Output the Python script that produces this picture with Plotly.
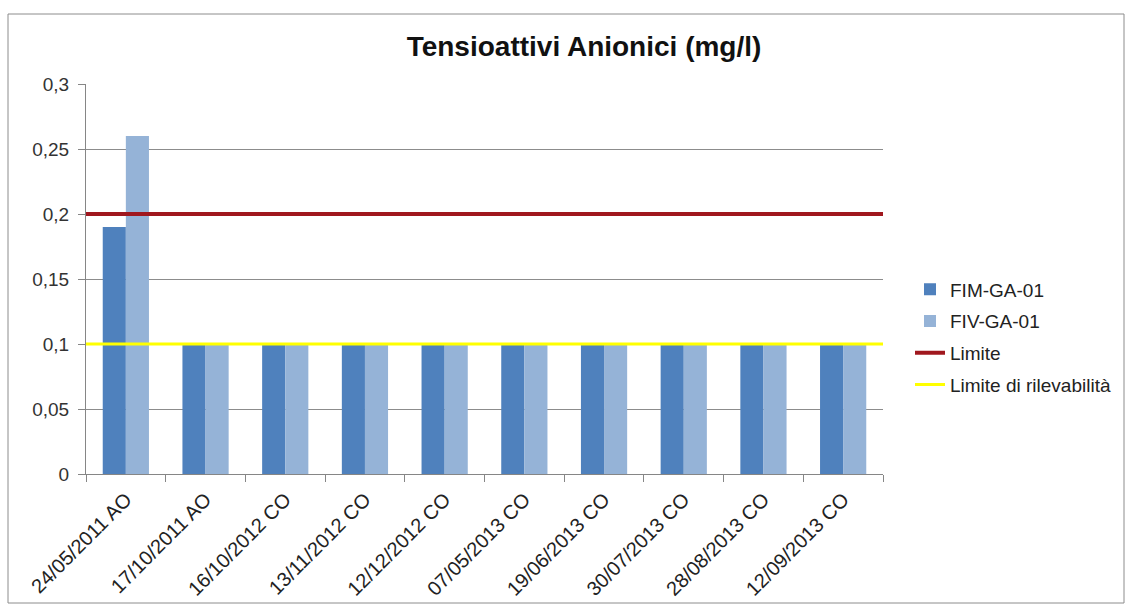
import plotly.graph_objects as go

categories = ["24/05/2011 AO", "17/10/2011 AO", "16/10/2012 CO", "13/11/2012 CO",
              "12/12/2012 CO", "07/05/2013 CO", "19/06/2013 CO", "30/07/2013 CO",
              "28/08/2013 CO", "12/09/2013 CO"]
fim_ga_01 = [0.19, 0.1, 0.1, 0.1, 0.1, 0.1, 0.1, 0.1, 0.1, 0.1]
fiv_ga_01 = [0.26, 0.1, 0.1, 0.1, 0.1, 0.1, 0.1, 0.1, 0.1, 0.1]
limite = 0.2
limite_rilevabilita = 0.1
y_ticks = [0, 0.05, 0.1, 0.15, 0.2, 0.25, 0.3]

W, H = 1126, 605
L, R, T, B = 86, 243, 84, 131
pw, ph = W - L - R, H - T - B

fig = go.Figure()
fig.add_trace(go.Bar(x=categories, y=fim_ga_01, name="FIM-GA-01",
                     marker=dict(color="#4F81BD", line=dict(width=0)),
                     legendgroup="a"))
fig.add_trace(go.Bar(x=categories, y=fiv_ga_01, name="FIV-GA-01",
                     marker=dict(color="#95B3D7", line=dict(width=0)),
                     legendgroup="b"))
fig.add_trace(go.Scatter(x=[0, 1], y=[limite, limite], name="Limite", mode="lines",
                         line=dict(color="#A0171E", width=4), xaxis="x2",
                         legendgroup="c"))
fig.add_trace(go.Scatter(x=[0, 1], y=[limite_rilevabilita, limite_rilevabilita],
                         name="Limite di rilevabilità", mode="lines",
                         line=dict(color="#FFFF00", width=3), xaxis="x2",
                         legendgroup="d"))

def px_x(p):
    return (p - L) / pw

def px_y(p):
    return (H - B - p) / ph

fig.update_layout(
    width=W, height=H,
    margin=dict(l=L, r=R, t=T, b=B, autoexpand=False),
    paper_bgcolor="white", plot_bgcolor="white",
    separators=",.",
    font=dict(family="Liberation Sans, Arial, sans-serif", size=19, color="#333333"),
    title=dict(text="<b>Tensioattivi Anionici (mg/l)</b>", x=px_x(584), xref="paper",
               y=1 - 46 / H, yanchor="middle", xanchor="center",
               font=dict(size=28, color="#111111")),
    barmode="group", bargap=0.42, bargroupgap=0,
    xaxis=dict(type="category", tickson="boundaries", ticks="outside", ticklen=7,
               tickcolor="#868686", showline=True, linecolor="#868686", linewidth=1,
               tickangle=-45, showgrid=False, ticklabelstandoff=5,
               tickfont=dict(size=20, color="#222222")),
    xaxis2=dict(overlaying="x", range=[0, 1], visible=False),
    yaxis=dict(range=[0, 0.3], tickvals=y_ticks, ticks="outside", ticklen=7,
               tickcolor="#868686", showline=True, linecolor="#868686", linewidth=1,
               showgrid=True, gridcolor="#8C8C8C", gridwidth=1, zeroline=False,
               ticklabelstandoff=5,
               tickfont=dict(size=19, color="#333333")),
    legend=dict(x=px_x(910), y=px_y(337), xanchor="left", yanchor="middle",
                traceorder="grouped", tracegroupgap=4,
                font=dict(size=19, color="#222222"), bgcolor="rgba(0,0,0,0)"),
    shapes=[dict(type="rect", xref="paper", yref="paper",
                 x0=px_x(8), x1=px_x(1124), y0=px_y(603), y1=px_y(14),
                 line=dict(color="#8C8C8C", width=1), fillcolor="rgba(0,0,0,0)",
                 layer="below")],
)

fig.write_html("out.html")
